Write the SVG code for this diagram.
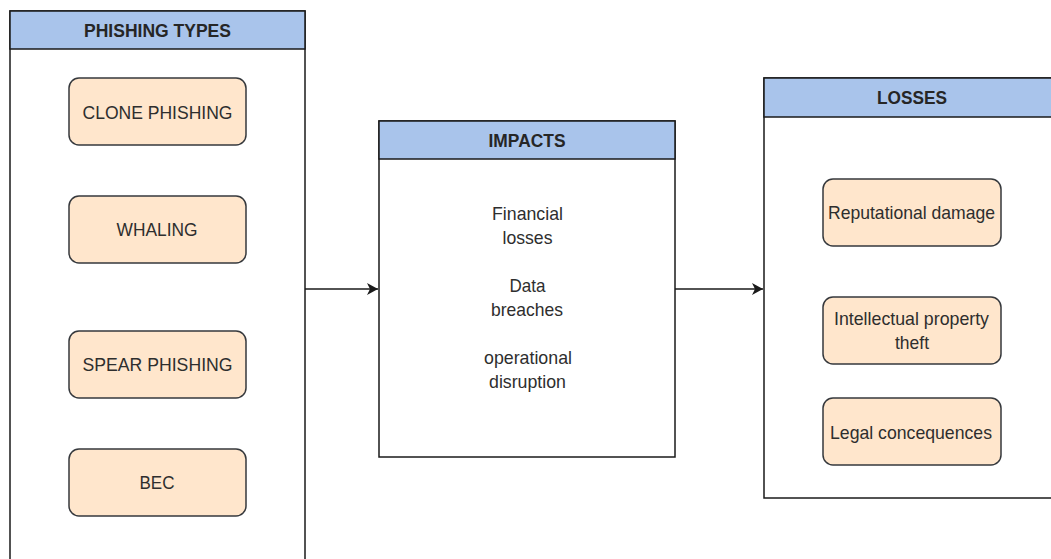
<svg xmlns="http://www.w3.org/2000/svg" width="1051" height="559" viewBox="0 0 1051 559">
<style>
.cont{fill:#ffffff;stroke:#1a1a1a;stroke-width:1.5}
.hdr{fill:#a9c4eb;stroke:#1a1a1a;stroke-width:1.5}
.ht{font-family:"Liberation Sans",Arial,sans-serif;font-size:18.5px;font-weight:bold;fill:#262626;text-anchor:middle}
.box{fill:#ffe6cc;stroke:#36393d;stroke-width:1.5}
.t{font-family:"Liberation Sans",Arial,sans-serif;font-size:19px;fill:#2e2e2e;text-anchor:middle}
.edge{stroke:#1a1a1a;stroke-width:1.5;fill:none}
</style>
<defs>
<marker id="arr" markerWidth="12" markerHeight="12" refX="11" refY="6" orient="auto" markerUnits="userSpaceOnUse">
<path d="M0,0 L11,6 L0,12 L3,6 Z" fill="#1a1a1a"/>
</marker>
</defs>
<rect x="0" y="0" width="1051" height="559" fill="#ffffff"/>
<g id="phishing-types">
<rect class="cont" x="10" y="11" width="295" height="560"/>
<rect class="hdr" x="10" y="11" width="295" height="38"/>
<text class="ht" x="157.5" y="36.5" textLength="147" lengthAdjust="spacingAndGlyphs">PHISHING TYPES</text>
</g>
<g id="clone-phishing">
<rect class="box" x="69" y="78" width="177" height="67" rx="10"/>
<text class="t" x="157.5" y="118.5" textLength="150" lengthAdjust="spacingAndGlyphs">CLONE PHISHING</text>
</g>
<g id="whaling">
<rect class="box" x="69" y="196" width="177" height="67" rx="10"/>
<text class="t" x="157" y="236" textLength="81" lengthAdjust="spacingAndGlyphs">WHALING</text>
</g>
<g id="spear-phishing">
<rect class="box" x="69" y="331" width="177" height="67" rx="10"/>
<text class="t" x="157.5" y="371" textLength="150" lengthAdjust="spacingAndGlyphs">SPEAR PHISHING</text>
</g>
<g id="bec">
<rect class="box" x="69" y="449" width="177" height="67" rx="10"/>
<text class="t" x="157" y="489" textLength="35" lengthAdjust="spacingAndGlyphs">BEC</text>
</g>
<g id="impacts">
<rect class="cont" x="379" y="121" width="296" height="336"/>
<rect class="hdr" x="379" y="121" width="296" height="38"/>
<text class="ht" x="527" y="146.5" textLength="77" lengthAdjust="spacingAndGlyphs">IMPACTS</text>
<text class="t" x="527.5" y="220" textLength="71" lengthAdjust="spacingAndGlyphs">Financial</text>
<text class="t" x="527.5" y="243.5" textLength="50" lengthAdjust="spacingAndGlyphs">losses</text>
<text class="t" x="527.5" y="292" textLength="36" lengthAdjust="spacingAndGlyphs">Data</text>
<text class="t" x="527" y="316" textLength="72" lengthAdjust="spacingAndGlyphs">breaches</text>
<text class="t" x="528" y="364" textLength="88" lengthAdjust="spacingAndGlyphs">operational</text>
<text class="t" x="527.5" y="388" textLength="77" lengthAdjust="spacingAndGlyphs">disruption</text>
</g>
<g id="losses">
<rect class="cont" x="764" y="78" width="296" height="420"/>
<rect class="hdr" x="764" y="78" width="296" height="39"/>
<text class="ht" x="912" y="104" textLength="70" lengthAdjust="spacingAndGlyphs">LOSSES</text>
</g>
<g id="reputational-damage">
<rect class="box" x="823" y="179" width="178" height="67" rx="10"/>
<text class="t" x="911.5" y="219" textLength="167" lengthAdjust="spacingAndGlyphs">Reputational damage</text>
</g>
<g id="ip-theft">
<rect class="box" x="823" y="297" width="178" height="67" rx="10"/>
<text class="t" x="911.5" y="324.5" textLength="155" lengthAdjust="spacingAndGlyphs">Intellectual property</text>
<text class="t" x="912" y="349" textLength="34" lengthAdjust="spacingAndGlyphs">theft</text>
</g>
<g id="legal-consequences">
<rect class="box" x="823" y="398" width="178" height="67" rx="10"/>
<text class="t" x="911" y="438.5" textLength="162" lengthAdjust="spacingAndGlyphs">Legal concequences</text>
</g>
<g id="connectors">
<line class="edge" x1="305" y1="289" x2="378" y2="289" marker-end="url(#arr)"/>
<line class="edge" x1="675" y1="289" x2="763" y2="289" marker-end="url(#arr)"/>
</g>
</svg>
